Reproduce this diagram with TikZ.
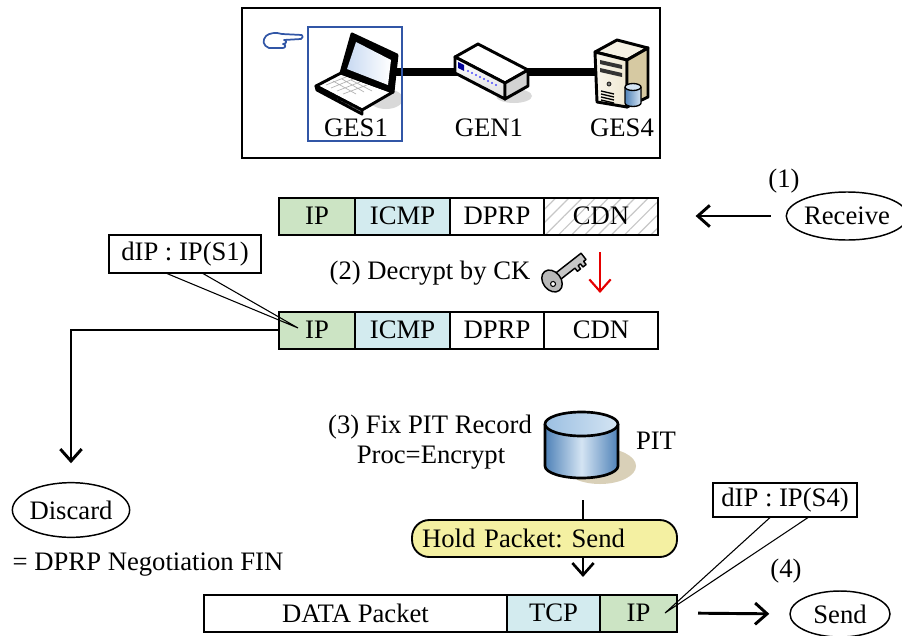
\documentclass[tikz,border=0pt]{standalone}
\usepackage{fontspec}
\setmainfont{Liberation Serif}
\usetikzlibrary{arrows.meta,shapes.geometric,patterns.meta,calc}

\definecolor{ipgreen}{HTML}{CCE4C4}
\definecolor{icmpcyan}{HTML}{D3EBEF}
\definecolor{holdyellow}{HTML}{F4F0A2}
\definecolor{selblue}{HTML}{3156A6}
\definecolor{shadowtan}{HTML}{D9D0B8}
\definecolor{dbdark}{HTML}{4F82B8}
\definecolor{dblight}{HTML}{D4E4F3}
\definecolor{dbtop}{HTML}{9CC0E2}
\definecolor{beige}{HTML}{EFE8D2}
\definecolor{beigedark}{HTML}{D6C9A2}
\definecolor{screenblue}{HTML}{C9DAF2}

\begin{document}
\frenchspacing
\begin{tikzpicture}[x=0.75pt,y=-0.75pt,
  every node/.style={font=\fontsize{20}{24}\selectfont},
  cell/.style={draw, line width=1.5pt, inner sep=0pt, minimum height=27.75pt, minimum width=#1},
  oval/.style={draw, ellipse, line width=1.1pt, inner sep=0pt},
  tag/.style={draw, line width=0.8pt, fill=white, inner sep=0pt},
  pointer/.style={line width=0.8pt},
  arr/.style={line width=2.2pt, -{Straight Barb[length=9pt,width=16pt]}},
  holdbox/.style={draw, line width=1.4pt, fill=holdyellow, rounded corners=13pt,
    text width=183.75pt, inner xsep=7.5pt, inner ysep=0pt, align=left, minimum height=27.75pt},
  dev/.style={line width=2.2pt, line join=round},
]
\useasboundingbox (0,0) rectangle (902,635);

% ---------- network overview ----------
\draw[line width=1.5pt] (242,8) rectangle (660,158);
\coordinate (linkA) at (380,72);
\coordinate (linkB) at (605,72);
\draw[line width=5.5pt] (linkA) -- (linkB);

% laptop
\fill[gray!30] (386,99) ellipse (17 and 10);
\filldraw[dev, fill=white] (316,86) -- (341,73) -- (393,92) -- (362,110) -- cycle;
\draw[dev, fill=gray!15] (316,86) -- (362,110) -- (362,114) -- (317,90) -- cycle;
\draw[gray!60, line width=0.5pt]
  (326,85) -- (346,77) (331,88) -- (353,79) (337,91) -- (360,82) (343,94) -- (367,85)
  (333,81) -- (356,94) (342,79) -- (364,92) (351,80) -- (372,91);
\filldraw[dev, fill=black] (341,73) -- (393,92) -- (397,55) -- (352,34) -- cycle;
\fill[left color=screenblue, right color=white] (347,69) -- (388,85) -- (391,60) -- (356,42) -- cycle;

% switch
\fill[gray!30] (514,96) ellipse (18 and 7);
\filldraw[dev, fill=white] (455,57) -- (478,44) -- (528,70) -- (505,83) -- cycle;
\filldraw[dev, top color=white, bottom color=gray!25] (455,57) -- (505,83) -- (505,99) -- (455,73) -- cycle;
\filldraw[dev, fill=gray!35] (505,83) -- (528,70) -- (528,86) -- (505,99) -- cycle;
\fill[blue!60!black] (458,62) -- (464,65) -- (464,71) -- (458,68) -- cycle;
\foreach \i in {0,...,7} \fill[blue!70] ($(468,71)+(4*\i,2*\i)$) circle (1.2);

% server
\filldraw[dev, fill=beige!60] (595,52) -- (617,40) -- (648,48) -- (627,60) -- cycle;
\filldraw[dev, left color=beige!40, right color=beige] (595,52) -- (627,60) -- (627,107) -- (597,102) -- cycle;
\filldraw[dev, fill=beigedark] (627,60) -- (648,48) -- (648,97) -- (627,107) -- cycle;
\fill[black!80] (600,60) -- (622,65) -- (622,69) -- (600,64) -- cycle;
\fill[black!80] (600,68) -- (622,73) -- (622,77) -- (600,72) -- cycle;
\filldraw[fill=gray, line width=0.5pt] (609,84) circle (2);
\foreach \i in {0,1,2,3} \draw[line width=1pt] ($(601,91)+(0,3*\i)$) -- ++(13,3);
\fill[left color=dbdark, right color=dblight] (625,87) -- (625,103) arc[start angle=180,end angle=0,x radius=8,y radius=3.5] -- (641,87) -- cycle;
\draw[line width=1pt] (625,87) -- (625,103) arc[start angle=180,end angle=0,x radius=8,y radius=3.5] -- (641,87);
\filldraw[line width=1pt, fill=dblight] (633,87) ellipse (8 and 3.5);

% pointing hand
\draw[selblue, line width=1.3pt, line join=round]
  (302,35) -- (282,34) .. controls (276,32) and (269,33) .. (266,36)
  .. controls (262,40) and (263,46) .. (269,48) -- (283,48)
  .. controls (286,48) and (286,44) .. (283,44)
  .. controls (287,44) and (287,40) .. (284,40) -- (301,39)
  .. controls (303,38) and (303,36) .. (302,35);

% selection frame and device names
\draw[selblue, line width=1.2pt] (308,27) rectangle (402,141);
\node (ges1) at (356,128) {GES1};
\node (gen1) at (489,128) {GEN1};
\node (ges4) at (622,128) {GES4};

% ---------- received packet ----------
\node[cell=57pt, fill=ipgreen]   (a1) at (317,216)   {IP};
\node[cell=71.25pt, fill=icmpcyan] (a2) at (402.5,216) {ICMP};
\node[cell=70.5pt]               (a3) at (497,216)   {DPRP};
\node[cell=85.5pt, pattern={Lines[angle=45,distance=7pt,line width=0.9pt]}, pattern color=black!22]
                                 (a4) at (601,216)   {CDN};

\node[oval, minimum width=85.5pt, minimum height=36pt] (recv) at (847,216) {Receive};
\node (step1) at (784,181) {(1)};
\draw[arr, shorten <=11.25pt, shorten >=27.75pt] (recv.west) -- (a4.east);

% ---------- decryption ----------
\node (dec) at (430,273) {(2) Decrypt by CK};
\begin{scope}[shift={(552,281)}, rotate=38]
  \filldraw[fill=gray!45, line width=1.1pt, line join=round]
    (6,-4) -- (40,-4) -- (40,4) -- (37,4) -- (37,8) -- (33,8) -- (33,4)
    -- (30,4) -- (30,8) -- (26,8) -- (26,4) -- (6,4) -- cycle;
  \filldraw[fill=gray!55, line width=1.1pt] (0,0) ellipse (9 and 12);
  \filldraw[fill=white, line width=0.8pt] (-1,3) circle (2.5);
\end{scope}
\coordinate (redtop) at (600,252);
\coordinate (redbot) at (600,293);
\draw[red!90!black, line width=1.6pt, -{Straight Barb[length=9pt,width=16pt]}] (redtop) -- (redbot);

\node[cell=57pt, fill=ipgreen]   (b1) at (317,330)   {IP};
\node[cell=71.25pt, fill=icmpcyan] (b2) at (402.5,330) {ICMP};
\node[cell=70.5pt]               (b3) at (497,330)   {DPRP};
\node[cell=85.5pt]               (b4) at (601,330)   {CDN};

% destination callout
\node[tag, minimum width=114pt, minimum height=28.5pt] (call1) at (185,254) {dIP : IP(S1)};
\coordinate (tip1) at (298,328);
\draw[pointer] ($(call1.south)+(-18,0)$) -- (tip1) -- ($(call1.south)+(18,0)$);

% discard branch
\node[oval, minimum width=85.5pt, minimum height=41pt] (disc) at (71,510) {Discard};
\draw[arr, shorten >=14pt] (b1.west) -| (disc.north);
\node[anchor=west] (fin) at (8,565) {= DPRP Negotiation FIN};

% ---------- PIT update ----------
\node (fix) at (430,427) {(3) Fix PIT Record};
\node (proc) at (431,458) {Proc=Encrypt};
\fill[shadowtan] (600,466) ellipse (36 and 18);
\path[left color=dbdark, right color=dbdark, middle color=dblight]
  (545,424) -- (545,466) arc[start angle=180,end angle=0,x radius=36.5,y radius=12] -- (618,424) -- cycle;
\draw[line width=2pt] (545,424) -- (545,466) arc[start angle=180,end angle=0,x radius=36.5,y radius=12] -- (618,424);
\filldraw[line width=2pt, left color=dbtop, right color=dblight] (581.5,424) ellipse (36.5 and 12);
\node (pit) at (656,441) {PIT};

\node[holdbox] (hold) at (544.5,538.5) {Hold Packet: Send};
\coordinate (dbfoot) at (583,500);
\draw[line width=2pt] (dbfoot) -- (dbfoot |- hold.north);
\draw[arr, line width=2pt, shorten >=12.75pt] (hold.south -| dbfoot) -- (dbfoot |- 0,594);

% ---------- outgoing packet ----------
\node[cell=227.25pt]             (c1) at (355.5,613) {DATA Packet};
\node[cell=69.75pt, fill=icmpcyan] (c2) at (553.5,613) {TCP};
\node[cell=57.75pt, fill=ipgreen]  (c3) at (638.5,613) {IP};

\node[tag, minimum width=108pt, minimum height=25.5pt] (call4) at (785,500) {dIP : IP(S4)};
\coordinate (tip4) at (665,613);
\draw[pointer] ($(call4.south)+(-15,0)$) -- (tip4) -- ($(call4.south)+(23,0)$);

\node[oval, minimum width=75pt, minimum height=34.5pt] (send) at (840,614) {Send};
\node (step4) at (786,571) {(4)};
\draw[arr, shorten <=15pt, shorten >=15pt] (c3.east) -- (send.west);
\end{tikzpicture}
\end{document}
